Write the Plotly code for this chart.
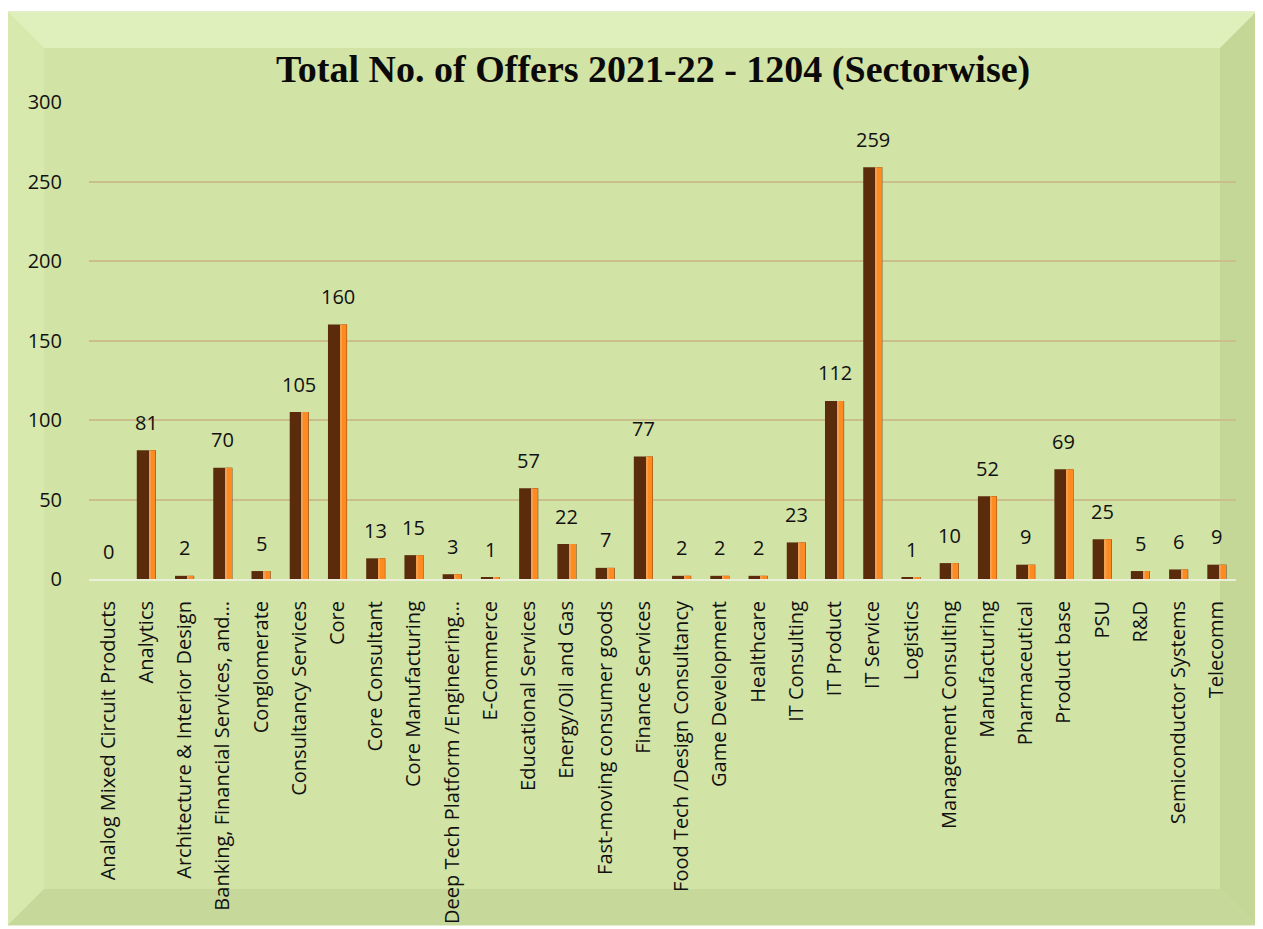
import plotly.graph_objects as go

categories = [
    "Analog Mixed Circuit Products", "Analytics", "Architecture & Interior Design",
    "Banking, Financial Services, and…", "Conglomerate", "Consultancy Services", "Core",
    "Core Consultant", "Core Manufacturing", "Deep Tech Platform /Engineering…",
    "E-Commerce", "Educational Services", "Energy/Oil and Gas", "Fast-moving consumer goods",
    "Finance Services", "Food Tech /Design Consultancy", "Game Development", "Healthcare",
    "IT Consulting", "IT Product", "IT Service", "Logistics", "Management Consulting",
    "Manufacturing", "Pharmaceutical", "Product base", "PSU", "R&D",
    "Semiconductor Systems", "Telecomm",
]
offers = [0, 81, 2, 70, 5, 105, 160, 13, 15, 3, 1, 57, 22, 7, 77, 2, 2, 2, 23, 112,
          259, 1, 10, 52, 9, 69, 25, 5, 6, 9]
y_ticks = [0, 50, 100, 150, 200, 250, 300]
title_text = "<b>Total No. of Offers 2021-22 - 1204 (Sectorwise)</b>"

W, H = 1263, 929
OFF = 8  # page body margin
L, R, T, B = 89 - OFF, 35, 102 - OFF, 358
PW, PH = W - L - R, H - T - B


def px(x):
    return (x - OFF - L) / PW


def py(y):
    return (H - B - (y - OFF)) / PH


fig = go.Figure()
fig.add_trace(go.Bar(
    x=categories, y=offers, width=0.5, marker=dict(color="#5a2c0c", line=dict(width=0)),
    hoverinfo="x+y", showlegend=False,
))
fig.add_trace(go.Bar(
    x=categories, y=offers, width=0.14, offset=0.1,
    marker=dict(color="#ff8a1f", line=dict(width=0)),
    hoverinfo="skip", showlegend=False,
))
fig.add_trace(go.Bar(
    x=categories, y=offers, width=0.04, offset=0.07,
    marker=dict(color="#f0a050", line=dict(width=0)),
    hoverinfo="skip", showlegend=False,
))

for c, v in zip(categories, offers):
    fig.add_annotation(x=c, y=v, text=str(v), showarrow=False, yshift=28,
                       font=dict(family="Open Sans", size=20, color="#111111"))

fig.add_annotation(xref="paper", yref="paper", x=px(653), y=py(70), text=title_text,
                   showarrow=False, xanchor="center", yanchor="middle",
                   font=dict(family="Liberation Serif", size=38, color="#0a0a0a"))

shapes = []
fx0, fx1, fy0, fy1 = 8, 1256, 12, 925
bev = 36
shapes.append(dict(type="rect", xref="paper", yref="paper", layer="below",
                   x0=px(fx0), x1=px(fx1), y0=py(fy1), y1=py(fy0),
                   fillcolor="#d2e3a6", line=dict(color="#c9dba0", width=1)))
shapes.append(dict(type="path", xref="paper", yref="paper", layer="below",
                   path=f"M {px(fx0)} {py(fy0)} L {px(fx1)} {py(fy0)} L {px(fx1-bev)} {py(fy0+bev)} L {px(fx0+bev)} {py(fy0+bev)} Z",
                   fillcolor="#e0f0bd", line=dict(width=0)))
shapes.append(dict(type="path", xref="paper", yref="paper", layer="below",
                   path=f"M {px(fx0)} {py(fy0)} L {px(fx0+bev)} {py(fy0+bev)} L {px(fx0+bev)} {py(fy1-bev)} L {px(fx0)} {py(fy1)} Z",
                   fillcolor="#d8e9ae", line=dict(width=0)))
shapes.append(dict(type="path", xref="paper", yref="paper", layer="below",
                   path=f"M {px(fx0)} {py(fy1)} L {px(fx0+bev)} {py(fy1-bev)} L {px(fx1-bev)} {py(fy1-bev)} L {px(fx1)} {py(fy1)} Z",
                   fillcolor="#c6d99b", line=dict(width=0)))
shapes.append(dict(type="path", xref="paper", yref="paper", layer="below",
                   path=f"M {px(fx1)} {py(fy0)} L {px(fx1)} {py(fy1)} L {px(fx1-bev)} {py(fy1-bev)} L {px(fx1-bev)} {py(fy0+bev)} Z",
                   fillcolor="#c4d797", line=dict(width=0)))

fig.update_layout(
    width=W, height=H,
    margin=dict(l=L, r=R, t=T, b=B),
    paper_bgcolor="white",
    plot_bgcolor="rgba(0,0,0,0)",
    barmode="overlay",
    bargap=0.5,
    shapes=shapes,
    font=dict(family="Open Sans", color="#111111"),
)
fig.update_xaxes(type="category", categoryorder="array", categoryarray=categories,
                 tickangle=-90, tickfont=dict(size=20), showgrid=False,
                 showline=True, linecolor="#e9efd9", linewidth=2, ticks="",
                 ticklabelstandoff=12)
fig.update_yaxes(range=[0, 300], tickvals=y_ticks, tickfont=dict(size=20),
                 showgrid=True, gridcolor="#c9be8c", gridwidth=2, zeroline=False,
                 ticks="", ticklabelstandoff=26)

fig.write_html("out.html")
